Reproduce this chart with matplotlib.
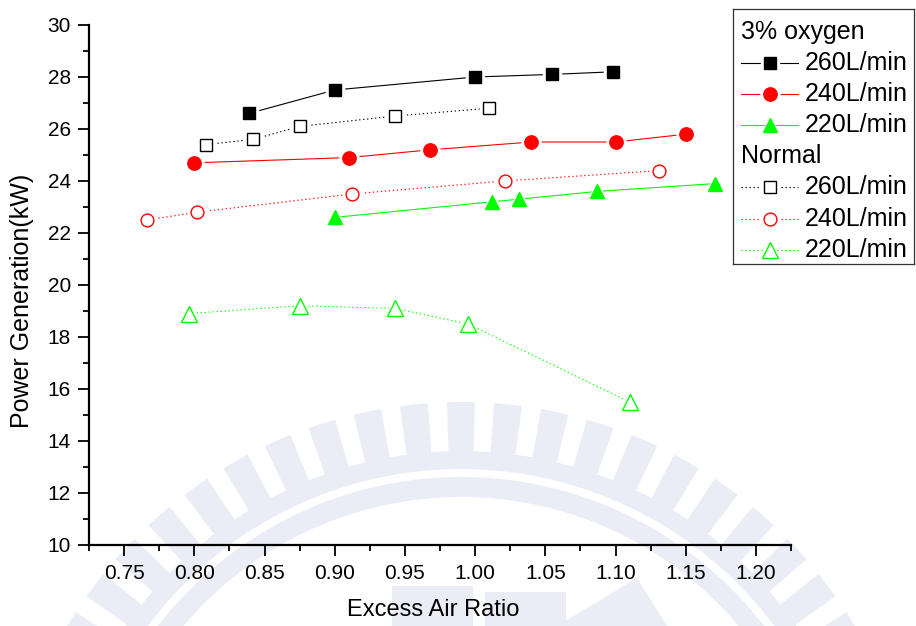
"""
Power generation vs. excess air ratio, 3% oxygen enrichment vs. normal air
"""
import matplotlib
matplotlib.use('Agg')
import matplotlib.pyplot as plt
from matplotlib.patches import Wedge, Rectangle, Polygon
from matplotlib.lines import Line2D

plt.rcParams['font.family'] = ['Liberation Sans', 'DejaVu Sans']

# 3% oxygen runs
o2_260_x = [0.839, 0.900, 1.000, 1.055, 1.098]
o2_260_y = [26.6, 27.5, 28.0, 28.1, 28.2]
o2_240_x = [0.800, 0.910, 0.968, 1.040, 1.100, 1.150]
o2_240_y = [24.7, 24.9, 25.2, 25.5, 25.5, 25.8]
o2_220_x = [0.900, 1.012, 1.031, 1.087, 1.171]
o2_220_y = [22.6, 23.2, 23.3, 23.6, 23.9]

# normal air runs
air_260_x = [0.808, 0.842, 0.875, 0.943, 1.010]
air_260_y = [25.4, 25.6, 26.1, 26.5, 26.8]
air_240_x = [0.766, 0.802, 0.912, 1.021, 1.131]
air_240_y = [22.5, 22.8, 23.5, 24.0, 24.4]
air_220_x = [0.796, 0.875, 0.943, 0.995, 1.110]
air_220_y = [18.9, 19.2, 19.1, 18.5, 15.5]

x_ticks = [0.75, 0.80, 0.85, 0.90, 0.95, 1.00, 1.05, 1.10, 1.15, 1.20]
y_ticks = [10, 12, 14, 16, 18, 20, 22, 24, 26, 28, 30]

GREEN = '#00FF00'
RED = '#FF0000'
DOT = (0, (1.2, 2.4))

series = [
    ('3% oxygen', None),
    ('260L/min', dict(x=o2_260_x, y=o2_260_y, color='black', ls='-', marker='s', ms=9, filled=True)),
    ('240L/min', dict(x=o2_240_x, y=o2_240_y, color=RED, ls='-', marker='o', ms=9.6, filled=True)),
    ('220L/min', dict(x=o2_220_x, y=o2_220_y, color=GREEN, ls='-', marker='^', ms=10.5, filled=True)),
    ('Normal', None),
    ('260L/min', dict(x=air_260_x, y=air_260_y, color='black', ls=DOT, marker='s', ms=8.5, filled=False)),
    ('240L/min', dict(x=air_240_x, y=air_240_y, color=RED, ls=DOT, marker='o', ms=9.2, filled=False)),
    ('220L/min', dict(x=air_220_x, y=air_220_y, color=GREEN, ls=DOT, marker='^', ms=11.5, filled=False)),
]

W, H = 916, 626
fig = plt.figure(figsize=(W / 100, H / 100), dpi=100)

# faint emblem in the background, laid out in pixel units
bg = fig.add_axes([0, 0, 1, 1], zorder=0)
bg.set_xlim(0, W)
bg.set_ylim(0, H)
bg.axis('off')
emb = '#EAEDF6'
cx, cy = 461, H - 860
bg.add_patch(Wedge((cx, cy), 409, 0, 180, width=18, color=emb, lw=0))
bg.add_patch(Wedge((cx, cy), 383, 0, 180, width=20, color=emb, lw=0))
for k in range(-16, 17):
    a = 90 + k * 5.9
    bg.add_patch(Wedge((cx, cy), 458, a - 1.75, a + 1.75, width=50, color=emb, lw=0))
bg.add_patch(Rectangle((392, 0), 81, H - 586, color=emb, lw=0))
bg.add_patch(Rectangle((485, 0), 81, H - 592, color=emb, lw=0))
bg.add_patch(Polygon([(557, 0), (637, H - 578), (667, 0)], closed=True, color=emb, lw=0))

ax = fig.add_axes([89 / W, 81 / H, 702 / W, 520 / H], zorder=1)
ax.patch.set_alpha(0)

for label, s in series:
    if s is None:
        continue
    face = s['color'] if s['filled'] else 'white'
    ax.plot(s['x'], s['y'], color=s['color'], ls=s['ls'], lw=0.8, zorder=2)
    # white halo so the line stops short of each marker
    ax.plot(s['x'], s['y'], ls='none', marker=s['marker'], ms=s['ms'] + 4,
            mfc='white', mec='white', zorder=3)
    ax.plot(s['x'], s['y'], ls='none', marker=s['marker'], ms=s['ms'],
            mfc=face, mec=s['color'], mew=1.0, zorder=4)

ax.set_xlim(0.725, 1.225)
ax.set_ylim(10, 30)
ax.set_xticks(x_ticks)
ax.set_xticklabels([f'{v:.2f}' for v in x_ticks])
ax.set_yticks(y_ticks)
ax.set_xticks([v + 0.025 for v in x_ticks] + [0.725], minor=True)
ax.set_yticks([v + 1 for v in y_ticks[:-1]], minor=True)

for side in ['top', 'right']:
    ax.spines[side].set_visible(False)
for side in ['left', 'bottom']:
    ax.spines[side].set_linewidth(1.6)
ax.tick_params(which='major', direction='out', length=8, width=1.3, labelsize=15, pad=5)
ax.tick_params(which='minor', direction='out', length=4.3, width=1.3)
ax.tick_params(axis='x', which='major', pad=6)

fig.text(433 / W, 1 - 610 / H, 'Excess Air Ratio', fontsize=17, ha='center', va='center')
fig.text(22 / W, 1 - 301 / H, 'Power Generation(kW)', fontsize=18, rotation=90,
         ha='center', va='center')

# legend box drawn by hand so the group headers sit flush left
lx0, ly0, lx1, ly1 = 733, 9, 914, 264
lax = fig.add_axes([lx0 / W, 1 - ly1 / H, (lx1 - lx0) / W, (ly1 - ly0) / H], zorder=3)
lax.set_xlim(lx0, lx1)
lax.set_ylim(ly1, ly0)
lax.set_xticks([])
lax.set_yticks([])
for sp in lax.spines.values():
    sp.set_linewidth(0.9)
    sp.set_color('#333333')

row0, step = 32, 31.1
for i, (label, s) in enumerate(series):
    yy = row0 + i * step
    if s is None:
        lax.text(741, yy, label, fontsize=18, ha='left', va='center')
        continue
    lax.add_line(Line2D([741, 798], [yy, yy], color=s['color'], ls=s['ls'], lw=0.8))
    face = s['color'] if s['filled'] else 'white'
    lax.plot([769.5], [yy], ls='none', marker=s['marker'], ms=s['ms'] + 4,
             mfc='white', mec='white')
    lax.plot([769.5], [yy], ls='none', marker=s['marker'], ms=s['ms'],
             mfc=face, mec=s['color'], mew=1.0)
    lax.text(805, yy, label, fontsize=18, ha='left', va='center')

fig.savefig('out.png', dpi=100)
